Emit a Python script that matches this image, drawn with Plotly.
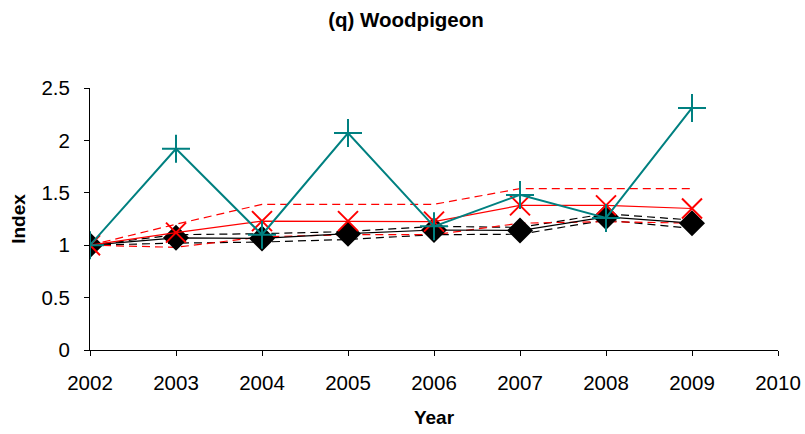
import plotly.graph_objects as go

years = [2002, 2003, 2004, 2005, 2006, 2007, 2008, 2009]

# Teal index with + markers
teal_index = [1.00, 1.92, 1.10, 2.07, 1.18, 1.48, 1.26, 2.31]

# Red index (x markers) with its dashed confidence limits
red_index = [1.00, 1.12, 1.23, 1.23, 1.225, 1.38, 1.38, 1.35]
red_upper = [1.00, 1.20, 1.39, 1.39, 1.39, 1.54, 1.54, 1.54]
red_lower = [1.00, 0.98, 1.08, 1.10, 1.10, 1.21, 1.225, 1.21]

# Black index (diamond markers) with its dashed confidence limits
black_index = [1.00, 1.07, 1.065, 1.11, 1.145, 1.14, 1.27, 1.21]
black_upper = [1.00, 1.10, 1.11, 1.13, 1.18, 1.17, 1.30, 1.24]
black_lower = [1.00, 1.02, 1.03, 1.055, 1.10, 1.105, 1.24, 1.16]

x_ticks = [2002, 2003, 2004, 2005, 2006, 2007, 2008, 2009, 2010]
y_ticks = [0, 0.5, 1, 1.5, 2, 2.5]
y_tick_text = ["0", "0.5", "1", "1.5", "2", "2.5"]

TEAL = "#008080"
RED = "#FF0000"
BLACK = "#000000"
FONT = "Liberation Sans, Arial, sans-serif"

fig = go.Figure()

# dashed confidence limits (drawn first, underneath)
for vals, col in [(black_upper, BLACK), (black_lower, BLACK),
                  (red_upper, RED), (red_lower, RED)]:
    fig.add_trace(go.Scatter(
        x=years, y=vals, mode="lines",
        line=dict(color=col, width=1.2, dash="8px,5px"),
        hoverinfo="skip", showlegend=False))

fig.add_trace(go.Scatter(
    x=years, y=black_index, mode="lines+markers",
    line=dict(color=BLACK, width=1.2),
    marker=dict(symbol="diamond", size=20, color=BLACK,
                line=dict(width=0)),
    showlegend=False))

fig.add_trace(go.Scatter(
    x=years, y=red_index, mode="lines+markers",
    line=dict(color=RED, width=1.2),
    marker=dict(symbol="x-thin", size=20, color=RED,
                line=dict(color=RED, width=2)),
    showlegend=False))

fig.add_trace(go.Scatter(
    x=years, y=teal_index, mode="lines+markers",
    line=dict(color=TEAL, width=2),
    marker=dict(symbol="cross-thin", size=20, color=TEAL,
                line=dict(color=TEAL, width=2)),
    showlegend=False))

fig.update_layout(
    width=805, height=434,
    margin=dict(l=90, r=27, t=88, b=84, autoexpand=False),
    paper_bgcolor="white", plot_bgcolor="white",
    font=dict(family=FONT, color="black"),
    title=dict(text="<b>(q) Woodpigeon</b>",
               font=dict(family=FONT, size=20.5, color="black"),
               x=406 / 805, xref="container",
               xanchor="center", y=1 - 20 / 434, yanchor="middle"),
    xaxis=dict(
        range=[2002, 2010], tickvals=x_ticks,
        ticktext=[str(v) for v in x_ticks],
        showgrid=False, zeroline=False, automargin=False,
        showline=True, linecolor="black", linewidth=1,
        ticks="outside", ticklen=5, tickcolor="black", tickwidth=1,
        tickfont=dict(family=FONT, size=20.5, color="black"),
        ticklabelstandoff=9,
        title=dict(text="<b>Year</b>", standoff=18,
                   font=dict(family=FONT, size=19, color="black")),
    ),
    yaxis=dict(
        range=[0, 2.5], tickvals=y_ticks, ticktext=y_tick_text,
        showgrid=False, zeroline=False, automargin=False,
        showline=True, linecolor="black", linewidth=1,
        ticks="outside", ticklen=5, tickcolor="black", tickwidth=1,
        tickfont=dict(family=FONT, size=20.5, color="black"),
        ticklabelstandoff=10,
        title=dict(text="<b>Index</b>", standoff=10,
                   font=dict(family=FONT, size=19, color="black")),
    ),
)

fig.write_html("out.html")
